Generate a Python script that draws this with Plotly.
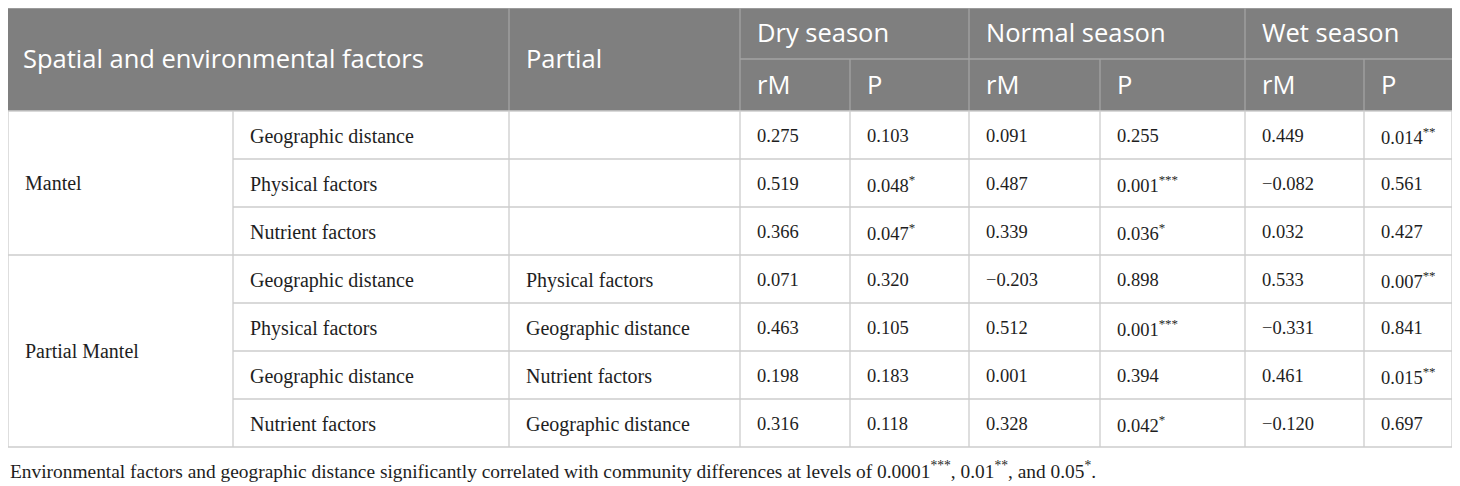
import plotly.graph_objects as go

# table content
groups = ["Mantel", "Partial Mantel"]
group_rows = [3, 4]
factors = ["Geographic distance", "Physical factors", "Nutrient factors",
           "Geographic distance", "Physical factors", "Geographic distance", "Nutrient factors"]
partials = ["", "", "", "Physical factors", "Geographic distance",
            "Nutrient factors", "Geographic distance"]
seasons = ["Dry season", "Normal season", "Wet season"]
sub_heads = ["rM", "P"]
dry_rm = ["0.275", "0.519", "0.366", "0.071", "0.463", "0.198", "0.316"]
dry_p = ["0.103", "0.048*", "0.047*", "0.320", "0.105", "0.183", "0.118"]
normal_rm = ["0.091", "0.487", "0.339", "\u22120.203", "0.512", "0.001", "0.328"]
normal_p = ["0.255", "0.001***", "0.036*", "0.898", "0.001***", "0.394", "0.042*"]
wet_rm = ["0.449", "\u22120.082", "0.032", "0.533", "\u22120.331", "0.461", "\u22120.120"]
wet_p = ["0.014**", "0.561", "0.427", "0.007**", "0.841", "0.015**", "0.697"]
footnote = ("Environmental factors and geographic distance significantly correlated with "
            "community differences at levels of 0.0001<sup>***</sup>, 0.01<sup>**</sup>, "
            "and 0.05<sup>*</sup>.")

W, H = 1460, 486
OFF = 8  # page body margin, so axis units equal page pixels
cols = [8, 233, 509, 740, 850, 969, 1100, 1245, 1364, 1452]  # column edges
top, mid, head_bot, row_h = 8, 59, 111, 48
pad = 15

HEAD_GRAY = "#7f7f7f"
HEAD_LINE = "#a3a3a3"
GRID = "#cdcdcd"
SANS = "Open Sans"
SERIF = "Liberation Serif"
INK = "#1e1e1e"


def sup(s):
  # put trailing asterisks in superscript
  base = s.rstrip("*")
  stars = s[len(base):]
  return base + ("<sup>" + stars + "</sup>" if stars else "")


def line(fig, x0, y0, x1, y1, color):
  fig.add_shape(type="line", x0=x0, y0=y0, x1=x1, y1=y1,
                line={"color": color, "width": 1.3}, layer="above")


def text(fig, x, y, s, font, size, color=INK):
  fig.add_annotation(x=x, y=y, text=s, showarrow=False, xanchor="left",
                     yanchor="middle", font={"family": font, "size": size, "color": color})


fig = go.Figure()

n_rows = len(factors)
bottom = head_bot + n_rows * row_h

# header background
fig.add_shape(type="rect", x0=cols[0], y0=top, x1=cols[-1], y1=head_bot,
              fillcolor=HEAD_GRAY, line={"width": 0}, layer="below")

# header lines
line(fig, cols[3], mid, cols[-1], mid, HEAD_LINE)
for c in [cols[2], cols[3], cols[5], cols[7]]:
  line(fig, c, top, c, head_bot, HEAD_LINE)
for c in [cols[4], cols[6], cols[8]]:
  line(fig, c, mid, c, head_bot, HEAD_LINE)
line(fig, cols[0], top, cols[-1], top, HEAD_LINE)

# header text
text(fig, cols[0] + 13, (top + head_bot) / 2 - 2, "Spatial and environmental factors", SANS, 25.5, "white")
text(fig, cols[2] + pad, (top + head_bot) / 2 - 2, "Partial", SANS, 25.5, "white")
for i, s in enumerate(seasons):
  text(fig, cols[3 + 2 * i] + pad, (top + mid) / 2 - 2, s, SANS, 25.5, "white")
  for j, h in enumerate(sub_heads):
    text(fig, cols[3 + 2 * i + j] + pad, (mid + head_bot) / 2 - 1, h, SANS, 25.5, "white")

# body grid
line(fig, cols[0], head_bot, cols[-1], head_bot, GRID)
line(fig, cols[0], head_bot, cols[0], bottom, GRID)
line(fig, cols[-1], head_bot, cols[-1], bottom, GRID)
for c in cols[1:-1]:
  line(fig, c, head_bot, c, bottom, GRID)
start = 0
for g, n in zip(groups, group_rows):
  for r in range(1, n):
    y = head_bot + (start + r) * row_h
    line(fig, cols[1], y, cols[-1], y, GRID)
  y_end = head_bot + (start + n) * row_h
  line(fig, cols[0], y_end, cols[-1], y_end, GRID)
  text(fig, cols[0] + pad, head_bot + (start + n / 2) * row_h, g, SERIF, 20)
  start += n

# body text
word_cols = [factors, partials]
num_cols = [dry_rm, dry_p, normal_rm, normal_p, wet_rm, wet_p]
for k, values in enumerate(word_cols + num_cols):
  size = 20 if k < len(word_cols) else 18.5
  for r, v in enumerate(values):
    if v:
      text(fig, cols[k + 1] + pad, head_bot + (r + 0.5) * row_h + 1, sup(v), SERIF, size)

# footnote
text(fig, cols[0], bottom + 23, footnote, SERIF, 19.4)

fig.update_xaxes(range=[OFF, W], visible=False, fixedrange=True)
fig.update_yaxes(range=[H, OFF], visible=False, fixedrange=True)
fig.update_layout(width=W - OFF, height=H - OFF, margin={"l": 0, "r": 0, "t": 0, "b": 0},
                  plot_bgcolor="white", paper_bgcolor="white", showlegend=False)

fig.write_html("out.html")
